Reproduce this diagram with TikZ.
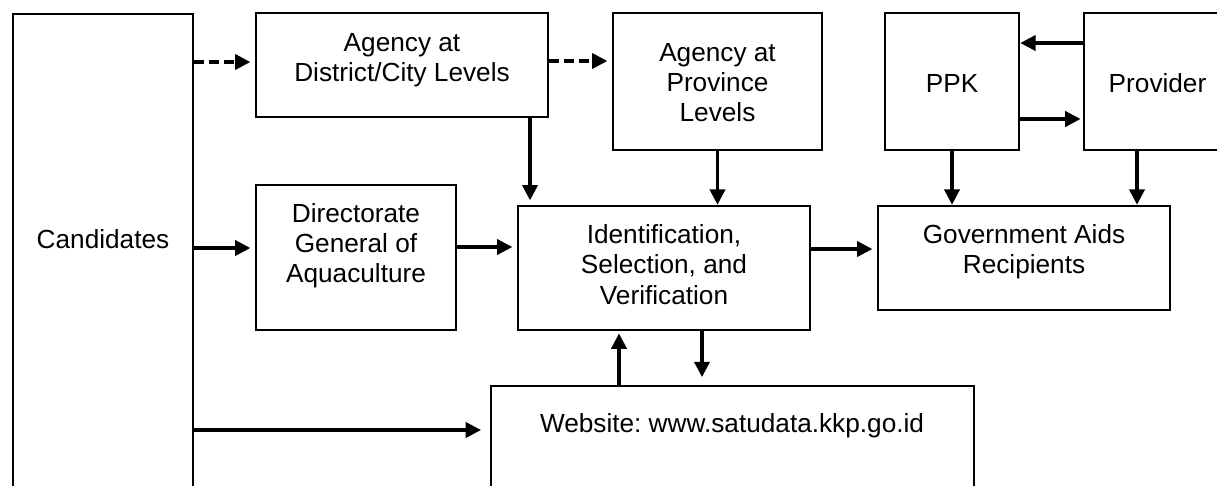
\documentclass[tikz,border=0pt]{standalone}
\usepackage{fontspec}
\setmainfont{Liberation Sans}
\usetikzlibrary{arrows.meta}
\def\pxu{0.458pt}

\begin{document}
\begin{tikzpicture}[x=\pxu,y=-\pxu,>={Triangle[length=7pt,width=7pt]},
  box/.style={draw,line width=1.2pt,inner sep=0pt},
  txt/.style={align=center,inner sep=0pt,anchor=base,font=\fontsize{12pt}{13.8pt}\selectfont},
  flow/.style={->,line width=1.4pt,shorten >=2pt},
  dashline/.style={dash pattern=on 4.6pt off 2.3pt}]
\useasboundingbox (0,0) rectangle (1217,485);
\clip (0,0) rectangle (1217,485);
\node[box,minimum width=180*\pxu,minimum height=506*\pxu] (cand) at (103,267) {};
\node[txt] (candT) at (103,248.5) {Candidates};
\node[box,minimum width=292*\pxu,minimum height=104*\pxu] (dist) at (402,65) {};
\node[txt] (distT) at (402,81.5) {Agency at\\District/City Levels};
\node[box,minimum width=209*\pxu,minimum height=137*\pxu] (prov) at (717.5,81.5) {};
\node[txt] (provT) at (717.5,121.5) {Agency at\\Province\\Levels};
\node[box,minimum width=134*\pxu,minimum height=137*\pxu] (ppk) at (952,81.5) {};
\node[txt] (ppkT) at (952,92.5) {PPK};
\node[box,minimum width=147*\pxu,minimum height=137*\pxu] (provd) at (1157.5,81.5) {};
\node[txt] (provdT) at (1157.5,92.5) {Provider};
\node[box,minimum width=200*\pxu,minimum height=145*\pxu] (dir) at (356,257.5) {};
\node[txt] (dirT) at (356,282.5) {Directorate\\General of\\Aquaculture};
\node[box,minimum width=292*\pxu,minimum height=124*\pxu] (idv) at (664,268) {};
\node[txt] (idvT) at (664,304) {Identification,\\Selection, and\\Verification};
\node[box,minimum width=292*\pxu,minimum height=104*\pxu] (gov) at (1024,258) {};
\node[txt] (govT) at (1024,273.5) {Government Aids\\Recipients};
\node[box,minimum width=483*\pxu,minimum height=134*\pxu] (web) at (732.5,453) {};
\node[txt] (webT) at (732,432.5) {Website:\ www.satudata.kkp.go.id};
\draw[flow,dashline] (cand.east |- 0,62) -- (dist.west |- 0,62);
\draw[flow,dashline] (dist.east |- 0,61) -- (prov.west |- 0,61);
\draw[flow] (dist.south -| 530,0) -- (idv.north -| 530,0);
\draw[flow,shorten >=0pt] (prov.south) -- (prov.south |- idv.north);
\draw[flow,shorten >=0pt] (provd.west |- 0,43) -- (ppk.east |- 0,43);
\draw[flow,shorten >=1pt] (ppk.east |- 0,119) -- (provd.west |- 0,119);
\draw[flow,shorten >=0pt] (ppk.south) -- (ppk.south |- gov.north);
\draw[flow,shorten >=0pt] (provd.south -| 1137,0) -- (gov.north -| 1137,0);
\draw[flow] (cand.east |- 0,248) -- (dir.west |- 0,248);
\draw[flow] (dir.east |- 0,247) -- (idv.west |- 0,247);
\draw[flow] (idv.east |- 0,249) -- (gov.west |- 0,249);
\draw[flow,shorten >=1pt] (web.north -| 619,0) -- (idv.south -| 619,0);
\draw[flow,shorten >=3.5pt] (idv.south -| 702,0) -- (web.north -| 702,0);
\draw[flow,shorten >=4pt] (cand.east |- 0,430) -- (web.west |- 0,430);
\end{tikzpicture}
\end{document}
